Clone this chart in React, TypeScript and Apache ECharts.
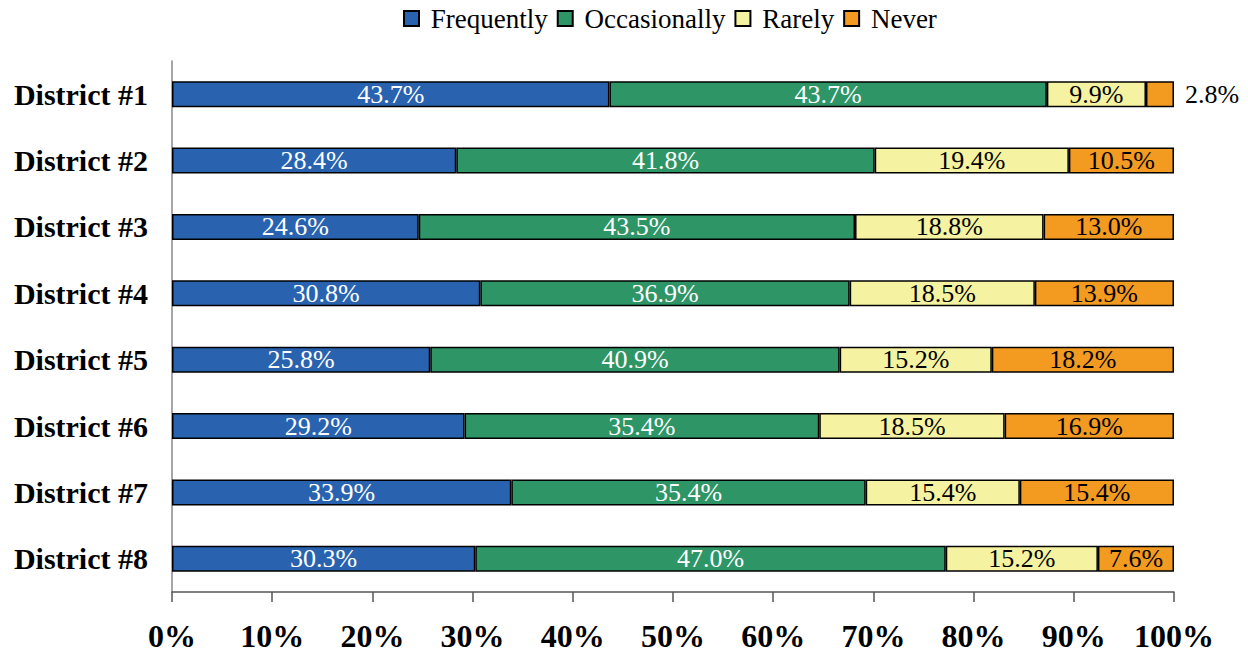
import React, { useEffect, useRef } from "react";
import * as echarts from "echarts";

const categories = ["District #1", "District #2", "District #3", "District #4", "District #5", "District #6", "District #7", "District #8"];
const seriesNames = ["Frequently", "Occasionally", "Rarely", "Never"];
const frequently = [43.7, 28.4, 24.6, 30.8, 25.8, 29.2, 33.9, 30.3];
const occasionally = [43.7, 41.8, 43.5, 36.9, 40.9, 35.4, 35.4, 47.0];
const rarely = [9.9, 19.4, 18.8, 18.5, 15.2, 18.5, 15.4, 15.2];
const never = [2.8, 10.5, 13.0, 13.9, 18.2, 16.9, 15.4, 7.6];
const xTicks = [0, 10, 20, 30, 40, 50, 60, 70, 80, 90, 100];

const colors = ["#2963b0", "#2e9566", "#f5f3a1", "#f39a21"];
const labelColors = ["#ffffff", "#ffffff", "#000000", "#000000"];
const FONT = "'Times New Roman', 'Liberation Serif', serif";

export default function App() {
  const ref = useRef<HTMLDivElement>(null);
  useEffect(() => {
    if (!ref.current) return;
    const chart = echarts.init(ref.current, undefined, { renderer: "svg" });
    const all = [frequently, occasionally, rarely, never];
    const sums = categories.map((_, i) => all.reduce((s, arr) => s + arr[i], 0));
    const series = all.map((arr, si) => ({
      name: seriesNames[si],
      type: "bar",
      stack: "total",
      barWidth: 26,
      itemStyle: { color: colors[si], borderColor: "#000", borderWidth: 1.5 },
      label: {
        show: true,
        position: "inside",
        color: labelColors[si],
        fontFamily: FONT,
        fontSize: 26,
        formatter: (p: any) => arr[p.dataIndex].toFixed(1) + "%",
      },
      data: arr.map((v, i) => {
        const item: any = { value: (v / sums[i]) * 100 };
        if (si === 3 && v < 5) {
          item.label = { position: "right", distance: 11, color: "#000" };
        }
        return item;
      }),
    }));
    chart.setOption({
      animation: false,
      backgroundColor: "#ffffff",
      legend: {
        top: 0,
        left: 398,
        itemWidth: 15,
        itemHeight: 15,
        itemGap: 9,
        icon: "rect",
        formatter: (name: string) => " " + name,
        textStyle: { fontFamily: FONT, fontSize: 27, color: "#000" },
        data: seriesNames,
      },
      grid: { left: 172, right: 74, top: 61, bottom: 62, containLabel: false },
      xAxis: {
        type: "value",
        min: 0,
        max: 100,
        interval: 10,
        axisLine: { show: true, lineStyle: { color: "#555", width: 1.5 } },
        axisTick: { show: true, length: 10, lineStyle: { color: "#555", width: 1.5 } },
        splitLine: { show: false },
        axisLabel: {
          margin: 28,
          fontFamily: FONT,
          fontWeight: "bold",
          fontSize: 32,
          color: "#000",
          formatter: (v: number) => (xTicks.includes(v) ? v + "%" : ""),
        },
      },
      yAxis: {
        type: "category",
        inverse: true,
        data: categories,
        axisLine: { show: true, lineStyle: { color: "#888", width: 1.5 } },
        axisTick: { show: false },
        axisLabel: {
          margin: 24,
          fontFamily: FONT,
          fontWeight: "bold",
          fontSize: 30,
          color: "#000",
        },
      },
      series,
    });
    return () => chart.dispose();
  }, []);
  return <div ref={ref} style={{ position: "absolute", left: 0, top: 0, width: 1248, height: 654 }} />;
}
